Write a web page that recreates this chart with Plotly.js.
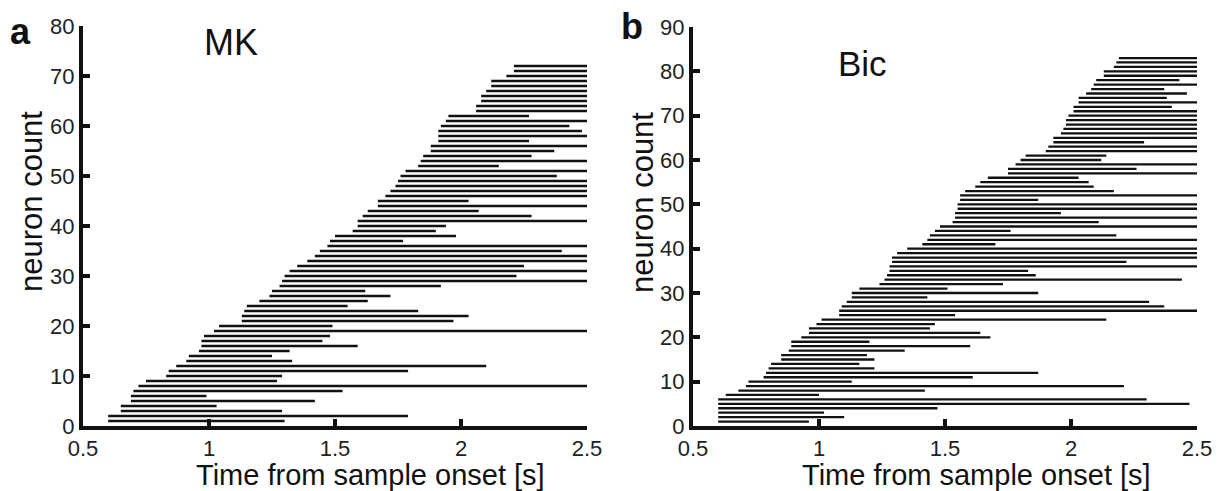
<!DOCTYPE html>
<html>
<head>
<meta charset="utf-8">
<script src="https://cdn.plot.ly/plotly-3.0.1.min.js"></script>
<style>html,body{margin:0;padding:0;background:#fff;}#chart{width:1230px;height:491px;}</style>
</head>
<body>
<div id="chart"></div>
<script>
// Panel a (MK): onset and offset times [s] for each neuron (neuron count 1..72)
const mkStart = [0.60,0.60,0.65,0.65,0.69,0.69,0.70,0.72,0.75,0.83,
  0.84,0.87,0.91,0.92,0.96,0.97,0.97,0.98,1.02,1.04,
  1.13,1.13,1.14,1.15,1.20,1.24,1.25,1.28,1.29,1.30,
  1.32,1.35,1.39,1.42,1.44,1.47,1.48,1.50,1.57,1.59,
  1.59,1.61,1.63,1.67,1.67,1.70,1.72,1.74,1.75,1.76,
  1.78,1.83,1.84,1.85,1.88,1.88,1.91,1.91,1.91,1.92,
  1.94,1.95,2.06,2.06,2.08,2.08,2.10,2.12,2.12,2.18,2.21,2.21];
const mkEnd = [1.30,1.79,1.29,1.03,1.42,0.99,1.53,2.50,1.27,1.29,
  1.79,2.10,1.33,1.25,1.32,1.59,1.45,1.48,2.50,1.49,
  1.97,2.03,1.83,1.55,1.63,1.72,1.62,1.92,2.50,2.22,
  2.50,2.25,2.50,2.50,2.40,2.50,1.77,1.98,1.90,1.94,
  2.50,2.28,2.07,2.50,2.03,2.50,2.50,2.50,2.50,2.38,
  2.50,2.15,2.50,2.28,2.37,2.50,2.27,2.50,2.48,2.43,
  2.50,2.27,2.50,2.50,2.50,2.50,2.50,2.50,2.50,2.50,2.50,2.50];

// Panel b (Bic): onset and offset times [s] for each neuron (neuron count 1..83)
const bicStart = [0.60,0.60,0.60,0.60,0.60,0.60,0.63,0.68,0.71,0.72,
  0.78,0.79,0.80,0.81,0.85,0.85,0.88,0.89,0.89,0.93,
  0.96,0.96,0.99,1.01,1.08,1.08,1.09,1.11,1.13,1.13,
  1.16,1.24,1.26,1.27,1.28,1.28,1.29,1.29,1.31,1.35,
  1.41,1.43,1.44,1.46,1.48,1.53,1.54,1.54,1.55,1.55,
  1.56,1.56,1.58,1.62,1.64,1.67,1.75,1.75,1.78,1.80,
  1.82,1.90,1.91,1.93,1.93,1.96,1.97,1.98,1.98,1.99,
  2.01,2.01,2.03,2.03,2.06,2.08,2.09,2.10,2.13,2.13,2.17,2.18,2.19];
const bicEnd = [0.96,1.10,1.02,1.47,2.47,2.30,1.00,1.42,2.21,1.13,
  1.61,1.87,1.22,1.16,1.22,1.19,1.34,1.60,1.20,1.68,
  1.64,1.44,1.46,2.14,1.54,2.50,2.37,2.31,1.43,1.87,
  1.51,1.73,2.44,1.86,1.83,2.50,2.22,2.50,2.50,2.50,
  1.70,2.50,2.18,1.76,2.50,2.11,2.50,1.96,2.50,2.50,
  1.87,2.50,2.17,2.09,2.07,2.03,2.50,2.26,2.50,2.12,
  2.14,2.50,2.50,2.29,2.50,2.50,2.50,2.50,2.50,2.50,
  2.50,2.40,2.50,2.38,2.46,2.37,2.50,2.43,2.50,2.50,2.50,2.50,2.50];

const xTickVals = [0.5, 1, 1.5, 2, 2.5];
const xTickText = ['0.5', '1', '1.5', '2', '2.5'];
const yTickValsA = [0, 10, 20, 30, 40, 50, 60, 70, 80];
const yTickValsB = [0, 10, 20, 30, 40, 50, 60, 70, 80, 90];

function segments(starts, ends) {
  const x = [], y = [];
  for (let i = 0; i < starts.length; i++) {
    x.push(starts[i], ends[i], null);
    y.push(i + 1, i + 1, null);
  }
  return {x, y};
}

const sa = segments(mkStart, mkEnd);
const sb = segments(bicStart, bicEnd);

const FONT = 'Liberation Sans, Arial, Helvetica, sans-serif';
const W = 1230, H = 491;
const px = v => v / W;
const py = v => 1 - v / H;

const traces = [
  {x: sa.x, y: sa.y, xaxis: 'x', yaxis: 'y', mode: 'lines', type: 'scatter',
   line: {color: '#111', width: 2.6}, hoverinfo: 'skip', showlegend: false, cliponaxis: false},
  {x: sb.x, y: sb.y, xaxis: 'x2', yaxis: 'y2', mode: 'lines', type: 'scatter',
   line: {color: '#111', width: 2.3}, hoverinfo: 'skip', showlegend: false, cliponaxis: false}
];

function axis(extra) {
  return Object.assign({
    showline: true, linecolor: '#111', linewidth: 4,
    ticks: 'inside', ticklen: 7, tickwidth: 4, tickcolor: '#111',
    showgrid: false, zeroline: false, layer: 'above traces',
    tickfont: {family: FONT, size: 22, color: '#222'}
  }, extra);
}

const layout = {
  width: W, height: H,
  margin: {l: 0, r: 0, t: 0, b: 0},
  paper_bgcolor: '#fff', plot_bgcolor: '#fff',
  showlegend: false,
  xaxis: axis({domain: [px(83), px(587)], range: [0.5, 2.5],
    tickvals: xTickVals, ticktext: xTickText, anchor: 'y'}),
  yaxis: axis({domain: [py(426), py(26)], range: [0, 80],
    tickvals: yTickValsA, anchor: 'x'}),
  xaxis2: axis({domain: [px(693), px(1197)], range: [0.5, 2.5],
    tickvals: xTickVals, ticktext: xTickText, anchor: 'y2'}),
  yaxis2: axis({domain: [py(426), py(27)], range: [0, 90],
    tickvals: yTickValsB, anchor: 'x2'}),
  annotations: [
    {text: '<b>a</b>', x: px(20), y: py(31), xref: 'paper', yref: 'paper', showarrow: false,
     xanchor: 'center', yanchor: 'middle', font: {family: FONT, size: 36, color: '#111'}},
    {text: '<b>b</b>', x: px(632), y: py(27), xref: 'paper', yref: 'paper', showarrow: false,
     xanchor: 'center', yanchor: 'middle', font: {family: FONT, size: 36, color: '#111'}},
    {text: 'MK', x: px(231), y: py(43), xref: 'paper', yref: 'paper', showarrow: false,
     xanchor: 'center', yanchor: 'middle', font: {family: FONT, size: 36, color: '#111'}},
    {text: 'Bic', x: px(862), y: py(63), xref: 'paper', yref: 'paper', showarrow: false,
     xanchor: 'center', yanchor: 'middle', font: {family: FONT, size: 35, color: '#111'}},
    {text: 'neuron count', x: px(31), y: py(202), xref: 'paper', yref: 'paper', showarrow: false,
     textangle: -90, xanchor: 'center', yanchor: 'middle', font: {family: FONT, size: 31, color: '#111'}},
    {text: 'neuron count', x: px(642), y: py(203), xref: 'paper', yref: 'paper', showarrow: false,
     textangle: -90, xanchor: 'center', yanchor: 'middle', font: {family: FONT, size: 31, color: '#111'}},
    {text: 'Time from sample onset [s]', x: px(370), y: py(475), xref: 'paper', yref: 'paper', showarrow: false,
     borderpad: 0, xanchor: 'center', yanchor: 'middle', font: {family: FONT, size: 29, color: '#111'}},
    {text: 'Time from sample onset [s]', x: px(976), y: py(475), xref: 'paper', yref: 'paper', showarrow: false,
     borderpad: 0, xanchor: 'center', yanchor: 'middle', font: {family: FONT, size: 29, color: '#111'}}
  ]
};

Plotly.newPlot('chart', traces, layout, {staticPlot: true, displayModeBar: false});
</script>
</body>
</html>
